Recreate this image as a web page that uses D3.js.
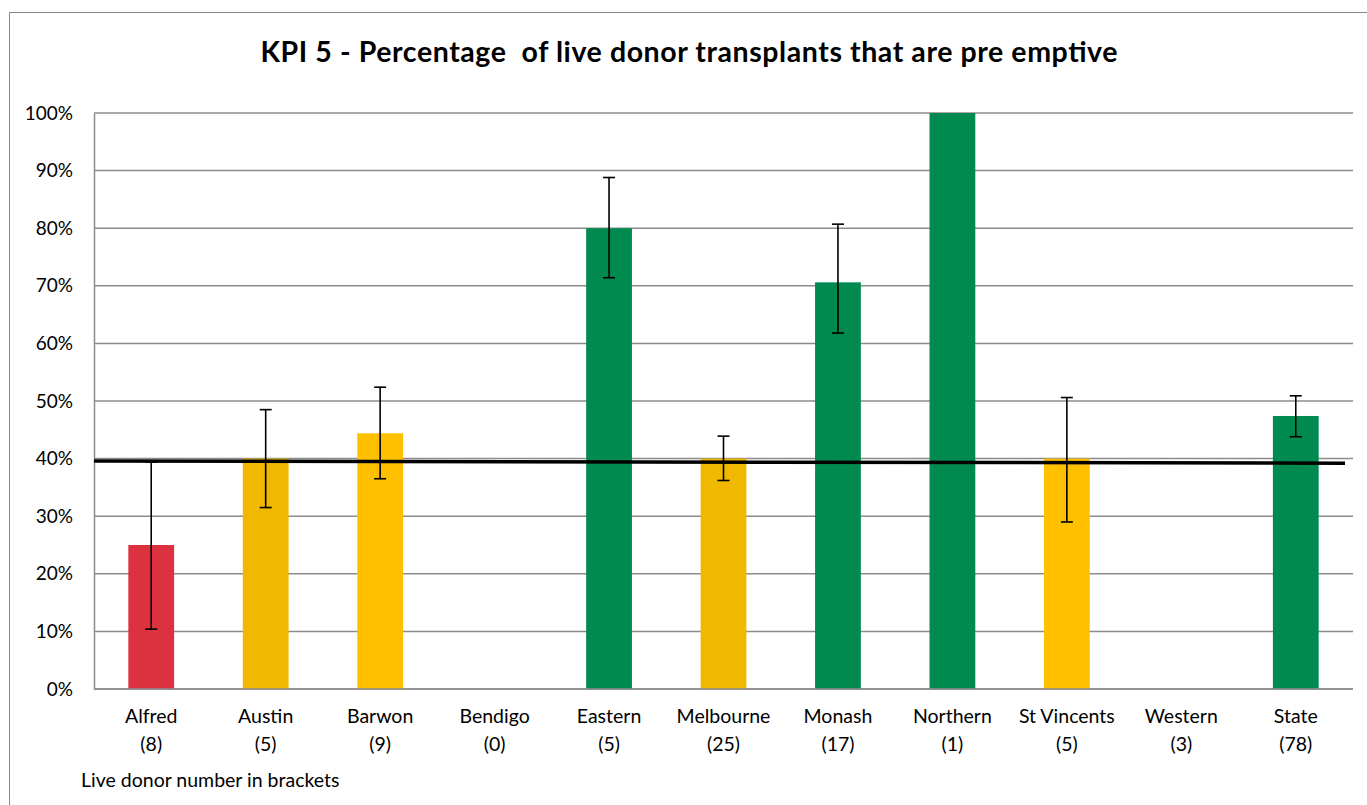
<!DOCTYPE html>
<html lang="en">
<head>
    <meta charset="UTF-8">
    <title>KPI 5</title>
    <script src="https://cdn.jsdelivr.net/npm/d3@7"></script>
    <style>
        body { margin: 0; background: #fff; }
        text { font-family: Lato, "Open Sans", sans-serif; fill: #000; }
    </style>
</head>
<body>
    <div id="container"></div>
    <script>
        const width = 1367;
        const height = 805;
        const margin = { top: 113, left: 94, right: 14, bottom: 116 };

        const categories = ['Alfred', 'Austin', 'Barwon', 'Bendigo', 'Eastern', 'Melbourne', 'Monash', 'Northern', 'St Vincents', 'Western', 'State'];
        const donorCounts = [8, 5, 9, 0, 5, 25, 17, 1, 5, 3, 78];
        const values = [25, 40, 44.4, 0, 80, 40, 70.6, 100, 40, 0, 47.4];
        const errLow = [10.4, 31.5, 36.5, null, 71.4, 36.2, 61.8, null, 29.0, null, 43.8];
        const errHigh = [39.4, 48.5, 52.4, null, 88.8, 43.9, 80.7, null, 50.6, null, 50.9];
        const ratings = ['red', 'amber', 'yellow', 'none', 'green', 'amber', 'green', 'green', 'yellow', 'none', 'green'];
        const targetLine = [39.6, 39.2];
        const yTicks = [0, 10, 20, 30, 40, 50, 60, 70, 80, 90, 100];

        const colors = { red: '#dc3240', amber: '#f0b900', yellow: '#ffc000', green: '#008a50', none: 'none' };

        const x = d3.scaleBand().domain(categories)
            .range([margin.left, width - margin.right])
            .paddingInner(0.6).paddingOuter(0.3);
        const y = d3.scaleLinear().domain([0, 100]).range([height - margin.bottom, margin.top]);

        const svg = d3.select('#container').append('svg')
            .attr('width', width)
            .attr('height', height);

        // outer frame
        svg.append('rect')
            .attr('x', 9.5).attr('y', 12.5)
            .attr('width', width + 10).attr('height', height + 10)
            .attr('fill', 'none').attr('stroke', '#888').attr('stroke-width', 1);

        svg.append('text')
            .attr('x', 689).attr('y', 62)
            .attr('text-anchor', 'middle')
            .attr('font-size', 28.5).attr('font-weight', 'bold')
            .attr('textLength', 857).attr('lengthAdjust', 'spacing')
            .style('white-space', 'pre')
            .text('KPI 5 - Percentage  of live donor transplants that are pre emptive');

        // grid lines
        svg.append('g').selectAll('line').data(yTicks).join('line')
            .attr('x1', margin.left).attr('x2', width - margin.right)
            .attr('y1', d => y(d)).attr('y2', d => y(d))
            .attr('stroke', '#8c8c8c').attr('stroke-width', 1.5);

        // y axis
        const gy = svg.append('g').attr('transform', `translate(${margin.left}, 0)`)
            .call(d3.axisLeft(y).tickValues(yTicks).tickSize(0).tickPadding(21).tickFormat(d => d + '%'));
        gy.select('.domain').attr('stroke', '#8c8c8c').attr('stroke-width', 1.5);
        gy.selectAll('text').attr('font-size', 19).attr('font-family', 'Lato, sans-serif').attr('fill', '#000');

        // bars
        const data = categories.map((c, i) => ({
            name: c, value: values[i], lo: errLow[i], hi: errHigh[i], rating: ratings[i], n: donorCounts[i]
        }));

        svg.append('g').selectAll('rect').data(data.filter(d => d.value > 0)).join('rect')
            .attr('x', d => x(d.name))
            .attr('y', d => y(d.value))
            .attr('width', x.bandwidth())
            .attr('height', d => y(0) - y(d.value))
            .attr('fill', d => colors[d.rating]);

        // target line
        const xl = d3.scaleLinear().domain([0, 1]).range([margin.left, 1345]);
        svg.append('path')
            .datum(targetLine)
            .attr('fill', 'none')
            .attr('stroke', '#000')
            .attr('stroke-width', 3.5)
            .attr('d', d3.line().x((d, i) => xl(i)).y(d => y(d)));

        // error bars
        const eb = svg.append('g').selectAll('g').data(data.filter(d => d.lo !== null)).join('g')
            .attr('stroke', '#000').attr('stroke-width', 1.6);
        const cx = d => x(d.name) + x.bandwidth() / 2;
        eb.append('line').attr('x1', cx).attr('x2', cx).attr('y1', d => y(d.lo)).attr('y2', d => y(d.hi));
        eb.append('line').attr('x1', d => cx(d) - 6).attr('x2', d => cx(d) + 6).attr('y1', d => y(d.lo)).attr('y2', d => y(d.lo));
        eb.append('line').attr('x1', d => cx(d) - 6).attr('x2', d => cx(d) + 6).attr('y1', d => y(d.hi)).attr('y2', d => y(d.hi));

        // x axis
        svg.append('line')
            .attr('x1', margin.left).attr('x2', width - margin.right)
            .attr('y1', y(0)).attr('y2', y(0))
            .attr('stroke', '#8c8c8c').attr('stroke-width', 1.5);

        const labels = svg.append('g').selectAll('text').data(data).join('text')
            .attr('text-anchor', 'middle')
            .attr('font-size', 19.5);
        labels.append('tspan').attr('x', cx).attr('y', 723).text(d => d.name);
        labels.append('tspan').attr('x', cx).attr('y', 751).text(d => `(${d.n})`);

        svg.append('text')
            .attr('x', 81).attr('y', 787)
            .attr('font-size', 19.5)
            .text('Live donor number in brackets');
    </script>
</body>
</html>
